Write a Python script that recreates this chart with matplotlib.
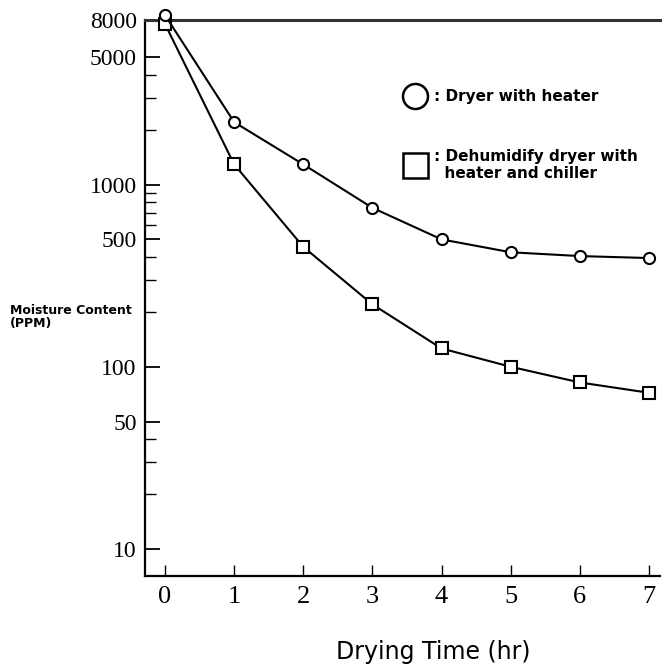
import matplotlib.pyplot as plt
from matplotlib.lines import Line2D
from matplotlib.ticker import NullFormatter

# drying time in hours
hours = [0, 1, 2, 3, 4, 5, 6, 7]
# moisture content (PPM)
dryer_heater = [8500, 2200, 1290, 745, 500, 425, 405, 395]
dehumid_chiller = [7600, 1290, 455, 220, 126, 100, 82, 72]

y_major = [10, 50, 100, 500, 1000, 5000, 8000]
y_major_labels = ['10', '50', '100', '500', '1000', '5000', '8000']
y_minor = [20, 30, 40, 200, 300, 400, 600, 700, 800, 900, 2000, 3000, 4000]

legend_labels = [': Dryer with heater', ': Dehumidify dryer with\n  heater and chiller']

fig = plt.figure(figsize=(6.62, 6.66), dpi=100)
ax = fig.add_axes([0.219, 0.135, 0.778, 0.835])

ax.plot(hours, dehumid_chiller, '-s', color='black', lw=1.5,
        ms=8, mfc='white', mec='black', mew=1.5, clip_on=False, zorder=3)
ax.plot(hours, dryer_heater, '-o', color='black', lw=1.5,
        ms=8, mfc='white', mec='black', mew=1.5, clip_on=False, zorder=4)

ax.set_yscale('log')
ax.set_ylim(7.1, 8000)
ax.set_xlim(-0.29, 7.16)

ax.set_yticks(y_major)
ax.set_yticklabels(y_major_labels)
ax.set_yticks(y_minor, minor=True)
ax.yaxis.set_minor_formatter(NullFormatter())
ax.set_xticks(hours)

for lab in ax.get_yticklabels():
    lab.set_family('Liberation Serif')
    lab.set_fontsize(17)
for lab in ax.get_xticklabels():
    lab.set_family('Liberation Serif')
    lab.set_fontsize(19)

ax.tick_params(axis='y', which='major', direction='in', length=11, width=1.3, pad=6)
ax.tick_params(axis='y', which='minor', direction='in', length=8, width=1.0)
ax.tick_params(axis='x', which='major', direction='in', length=8, width=1.0, pad=7)
ax.tick_params(axis='x', which='minor', length=0)

ax.spines['right'].set_visible(False)
ax.spines['top'].set_linewidth(2.2)
ax.spines['top'].set_color('#333333')
ax.spines['left'].set_linewidth(1.6)
ax.spines['bottom'].set_linewidth(1.6)

handles = [
    Line2D([], [], marker='o', ls='none', ms=18, mfc='white', mec='black', mew=1.8),
    Line2D([], [], marker='s', ls='none', ms=18, mfc='white', mec='black', mew=1.8),
]
ax.legend(handles, legend_labels, loc='upper left', bbox_to_anchor=(0.476, 0.9),
          frameon=False, handlelength=1.5, handletextpad=0.45, labelspacing=2.9,
          prop={'family': 'DejaVu Sans', 'size': 11, 'weight': 'bold'})

fig.text(10 / 662, 1 - 317 / 666, 'Moisture Content\n(PPM)', fontsize=9,
         weight='bold', family='DejaVu Sans', ha='left', va='center',
         linespacing=1.0)
fig.text(433 / 662, 1 - 652 / 666, 'Drying Time (hr)', fontsize=17,
         family='DejaVu Sans', ha='center', va='center')

fig.savefig('out.png', dpi=100)
